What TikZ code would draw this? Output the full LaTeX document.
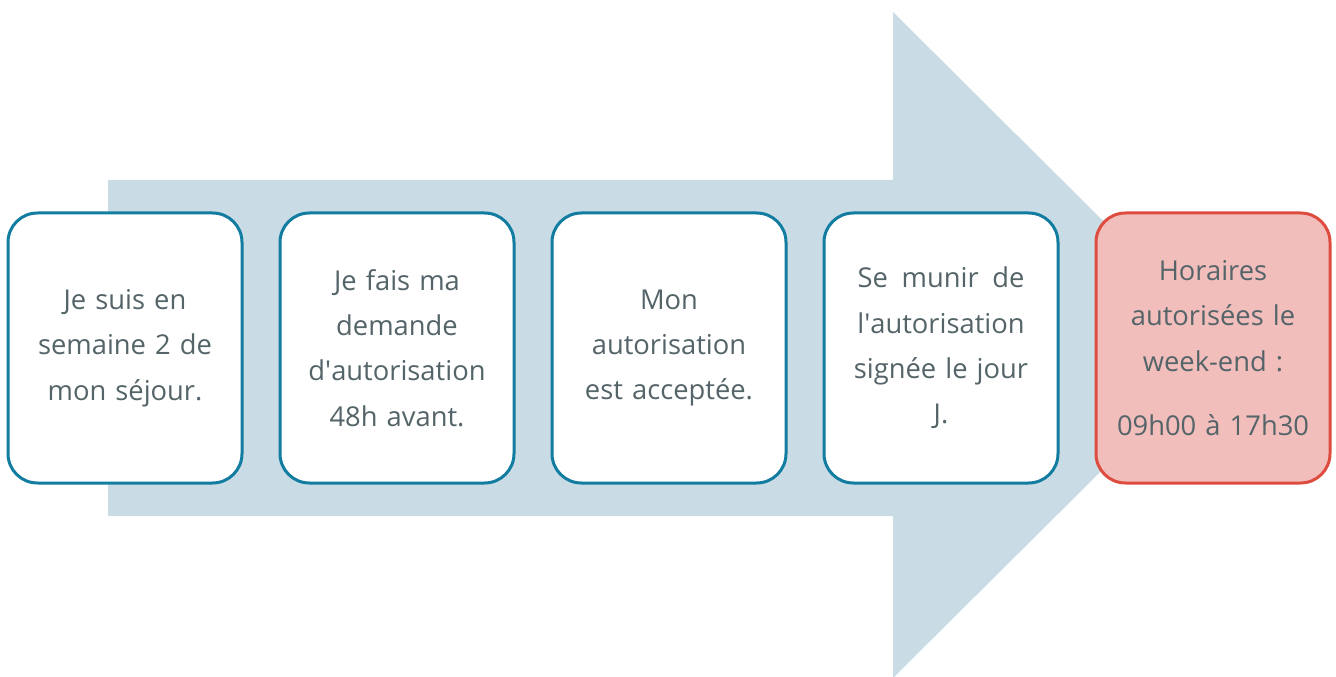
\documentclass[tikz,border=0pt]{standalone}
\usepackage{fontspec}
\setmainfont{Open Sans}
\usetikzlibrary{positioning}
\definecolor{arrowblue}{RGB}{201,219,229}
\definecolor{stepline}{RGB}{18,125,160}
\definecolor{stepred}{RGB}{222,76,64}
\definecolor{stepredfill}{RGB}{242,190,188}
\definecolor{steptext}{RGB}{84,100,104}
\newcommand{\steptxt}{\fontsize{20.5pt}{34pt}\selectfont}

\begin{document}
\begin{tikzpicture}[x=0.75pt,y=-0.75pt]
\tikzset{
  stepbox/.style={draw=stepline, line width=2.25pt, fill=white, rounded corners=22pt,
    minimum width=175.5pt, minimum height=202.5pt, text width=150pt, align=center,
    inner sep=0pt, text=steptext, font=\steptxt},
  lastbox/.style={stepbox, draw=stepred, fill=stepredfill}
}
\useasboundingbox (0,0) rectangle (1336,677);
% big arrow behind the steps
\fill [arrowblue] (108,180) -- (893,180) -- (893,12) -- (1228,345) -- (893,678) -- (893,516) -- (108,516) -- cycle;
% the steps
\node [stepbox] (week) at (125,348) {Je suis en\\semaine 2 de\\mon séjour.};
\node [stepbox, right=26.25pt of week] (demande) {Je fais ma\\demande\\d\textquotesingle autorisation\\48h avant.};
\node [stepbox, right=26.25pt of demande] (accord) {Mon\\autorisation\\est acceptée.};
\node [stepbox, right=26.25pt of accord] (jour) {Se\enspace munir\enspace de\\l\textquotesingle autorisation\\signée le jour\\J.};
\node [lastbox, right=26.25pt of jour] (horaires) {Horaires\\autorisées le\\week-end :\\[14pt]09h00 à 17h30};
\end{tikzpicture}
\end{document}
